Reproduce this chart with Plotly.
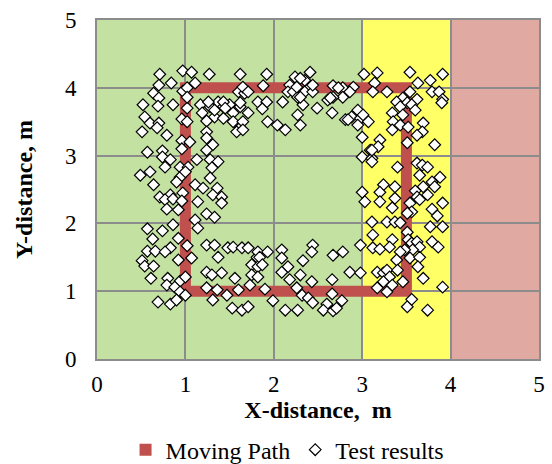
import plotly.graph_objects as go

# ---- data ----
path_x = [1, 1, 3.5, 3.5, 1]
path_y = [1, 4, 4, 1, 1]

zone_edges = [0, 3, 4, 5]
zone_colors = ["#c3e1a0", "#ffff66", "#e0aaa3"]

ticks = [0, 1, 2, 3, 4, 5]

left_pts = [
    (0.71, 4.20), (0.97, 4.25), (1.07, 4.23), (1.27, 4.20), (0.70, 4.04), (0.84, 4.07),
    (0.97, 3.95), (1.11, 4.07), (0.64, 3.92), (0.70, 3.85), (0.52, 3.75), (0.69, 3.73),
    (0.86, 3.75), (1.02, 3.70), (1.17, 3.75), (1.28, 3.72), (1.37, 3.79), (1.19, 3.63),
    (1.33, 3.57), (1.24, 3.51), (0.54, 3.57), (0.60, 3.48), (0.70, 3.48), (0.51, 3.35),
    (0.79, 3.30), (0.96, 3.54), (1.24, 3.35), (1.24, 3.26), (0.96, 3.22), (1.05, 3.20),
    (0.96, 3.10), (1.31, 3.16), (1.24, 3.08), (0.57, 3.05), (0.74, 3.07), (0.74, 2.98),
    (0.83, 2.94), (0.94, 2.83), (1.03, 2.83), (1.13, 2.94), (1.28, 2.94), (1.37, 2.91),
    (1.30, 2.82), (0.60, 2.76), (0.77, 2.83), (0.94, 2.68), (1.00, 2.76), (0.90, 2.61),
    (1.28, 2.67), (1.11, 2.57), (1.20, 2.52), (1.36, 2.52), (0.64, 2.57), (0.71, 2.39),
    (0.83, 2.42), (0.97, 2.45), (1.31, 2.42), (1.41, 2.39), (0.77, 2.35), (0.86, 2.36),
    (0.96, 2.33), (0.79, 2.21), (0.92, 2.20), (1.14, 2.32), (1.41, 2.30), (1.24, 2.14),
    (1.33, 2.09), (1.11, 2.05), (1.14, 1.93), (0.57, 1.92), (0.74, 1.89), (0.86, 1.98),
    (0.63, 1.77), (0.92, 1.78), (1.02, 1.67), (0.57, 1.59), (0.66, 1.59), (0.83, 1.64),
    (0.77, 1.58), (0.51, 1.45), (0.54, 1.37), (0.64, 1.37), (0.92, 1.46), (1.07, 1.49),
    (0.61, 1.19), (0.80, 1.19), (0.94, 1.15), (1.00, 1.21), (0.79, 1.09), (0.88, 1.06),
    (0.94, 0.99), (1.00, 0.94), (0.69, 0.84), (0.83, 0.81), (0.90, 0.87), (1.02, 4.00),
    (1.02, 3.86), (1.02, 3.50), (0.68, 3.41), (1.26, 3.79), (1.33, 3.67), (1.43, 3.72),
    (0.49, 2.71),
]

top_pts = [
    (1.62, 4.20), (1.50, 3.75), (1.62, 3.72), (1.71, 3.63), (1.54, 3.63), (1.60, 3.94),
    (1.67, 3.92), (1.43, 3.55), (1.54, 3.50), (1.62, 3.41), (1.58, 3.35), (1.92, 4.20),
    (1.88, 4.03), (2.24, 4.16), (2.41, 4.23), (2.18, 4.04), (2.35, 4.11), (2.41, 4.01),
    (2.16, 3.94), (2.22, 3.94), (2.27, 3.86), (2.35, 3.94), (2.44, 3.94), (1.82, 3.79),
    (1.92, 3.79), (1.87, 3.69), (2.10, 3.79), (2.33, 3.75), (2.49, 3.70), (2.67, 4.03),
    (2.78, 4.00), (2.90, 4.01), (2.86, 3.94), (2.78, 3.86), (2.67, 3.86), (2.61, 3.82),
    (2.66, 3.63), (2.27, 3.60), (2.30, 3.45), (1.93, 3.50), (2.04, 3.45), (2.13, 3.38),
    (2.81, 3.53), (2.88, 3.57), (2.95, 3.67), (2.98, 3.55), (2.95, 3.45), (3.00, 3.27),
    (3.00, 2.98), (3.00, 2.46), (1.65, 4.01), (1.71, 3.94), (1.43, 3.79), (1.45, 3.70),
    (1.65, 3.50), (1.65, 3.38), (1.62, 3.78), (2.30, 4.14), (2.44, 4.04), (2.26, 4.01),
    (2.30, 3.86), (2.64, 3.85), (2.73, 4.00), (2.84, 3.53),
]

bottom_pts = [
    (1.24, 1.68), (1.33, 1.68), (1.37, 1.50), (1.48, 1.64), (1.54, 1.65), (1.64, 1.64),
    (1.71, 1.64), (1.81, 1.50), (1.75, 1.39), (1.82, 1.36), (1.75, 1.24), (1.82, 1.21),
    (1.24, 1.28), (1.41, 1.27), (1.30, 1.24), (1.56, 1.19), (1.24, 1.05), (1.36, 1.02),
    (1.47, 0.94), (1.60, 1.02), (1.73, 1.09), (1.31, 0.87), (1.53, 0.75), (1.64, 0.72),
    (1.71, 0.77), (1.82, 1.58), (1.93, 1.58), (2.09, 1.61), (1.84, 1.50), (1.87, 1.39),
    (2.44, 1.68), (2.43, 1.58), (2.33, 1.45), (2.67, 1.53), (2.78, 1.58), (2.98, 1.68),
    (2.09, 1.49), (2.16, 1.36), (2.09, 1.28), (2.18, 1.17), (2.30, 1.24), (2.43, 1.14),
    (2.66, 1.17), (2.86, 1.28), (2.98, 1.27), (1.90, 1.03), (2.26, 1.05), (2.32, 0.94),
    (2.39, 0.90), (2.66, 0.96), (2.77, 0.86), (2.60, 0.81), (1.99, 0.86), (2.13, 0.72),
    (2.27, 0.72), (2.44, 0.83), (2.56, 0.72), (2.67, 0.71), (2.71, 0.75),
]

right_pts = [
    (3.03, 2.32), (3.02, 4.20), (3.17, 4.22), (3.14, 4.07), (3.12, 3.94), (3.28, 3.94),
    (3.54, 4.23), (3.63, 4.07), (3.77, 4.11), (3.91, 4.20), (3.79, 3.94), (3.87, 3.94),
    (3.91, 3.83), (3.90, 3.78), (3.54, 3.94), (3.46, 3.85), (3.51, 3.78), (3.62, 3.83),
    (3.56, 3.75), (3.39, 3.79), (3.43, 3.72), (3.34, 3.63), (3.46, 3.60), (3.60, 3.67),
    (3.01, 3.60), (3.07, 3.50), (3.35, 3.50), (3.34, 3.38), (3.43, 3.45), (3.52, 3.42),
    (3.69, 3.48), (3.68, 3.35), (3.20, 3.23), (3.18, 3.13), (3.09, 3.08), (3.51, 3.19),
    (3.62, 3.30), (3.82, 3.16), (3.11, 2.96), (3.11, 3.08), (3.40, 2.83), (3.62, 2.89),
    (3.68, 2.86), (3.11, 2.91), (3.74, 2.83), (3.65, 2.71), (3.88, 2.68), (3.79, 2.61),
    (3.82, 2.54), (3.69, 2.54), (3.60, 2.48), (3.74, 2.42), (3.24, 2.57), (3.37, 2.54),
    (3.20, 2.46), (3.37, 2.37), (3.20, 2.32), (3.34, 2.23), (3.62, 2.39), (3.65, 2.35),
    (3.54, 2.30), (3.56, 2.17), (3.51, 2.15), (3.91, 2.30), (3.79, 2.21), (3.85, 2.11),
    (3.11, 2.02), (3.28, 2.02), (3.37, 2.02), (3.43, 2.01), (3.77, 1.95), (3.91, 1.95),
    (3.51, 1.87), (3.52, 1.76), (3.56, 1.71), (3.62, 1.73), (3.65, 1.65), (3.57, 1.61),
    (3.48, 1.61), (3.43, 1.58), (3.39, 1.46), (3.54, 1.49), (3.65, 1.50), (3.12, 1.83),
    (3.12, 1.64), (3.20, 1.62), (3.34, 1.76), (3.31, 1.65), (3.79, 1.73), (3.86, 1.65),
    (3.63, 1.36), (3.69, 1.19), (3.91, 1.06), (3.17, 1.28), (3.24, 1.27), (3.28, 1.31),
    (3.40, 1.31), (3.31, 1.21), (3.24, 1.14), (3.17, 1.05), (3.28, 0.99), (3.34, 1.09),
    (3.46, 1.14), (3.51, 0.77), (3.56, 0.88), (3.74, 0.72),
]

all_pts = left_pts + top_pts + bottom_pts + right_pts
test_x = [p[0] for p in all_pts]
test_y = [p[1] for p in all_pts]

FONT = "Liberation Serif"
RED = "#c0504d"
GRID = "#8c8c8c"

fig = go.Figure()

fig.add_trace(go.Scatter(
    x=path_x, y=path_y, mode="lines",
    line=dict(color=RED, width=11),
    showlegend=False, hoverinfo="skip",
))
fig.add_trace(go.Scatter(
    x=[None], y=[None], mode="markers", name="Moving Path",
    marker=dict(symbol="square", color=RED, size=12),
))
fig.add_trace(go.Scatter(
    x=test_x, y=test_y, mode="markers", name="Test results",
    marker=dict(symbol="diamond", color="white", size=9,
                line=dict(color="black", width=1.2)),
))

for i, c in enumerate(zone_colors):
    fig.add_shape(type="rect", xref="x", yref="y",
                  x0=zone_edges[i], x1=zone_edges[i + 1], y0=ticks[0], y1=ticks[-1],
                  fillcolor=c, line=dict(width=0), layer="below")

axis_common = dict(
    range=[ticks[0], ticks[-1]], tickvals=ticks, showgrid=True,
    gridcolor=GRID, gridwidth=2, zeroline=False,
    showline=True, mirror=True, linecolor=GRID, linewidth=2,
    ticks="", tickfont=dict(family=FONT, size=23, color="black"),
    automargin=False,
)

fig.update_xaxes(**axis_common, ticklabelstandoff=3,
                 title=dict(text="<b>X-distance,  m</b>",
                            font=dict(family=FONT, size=24, color="black"),
                            standoff=2))
fig.update_yaxes(**axis_common, ticklabelstandoff=14,
                 title=dict(text="<b>Y-distance, m</b>",
                            font=dict(family=FONT, size=24, color="black"),
                            standoff=26))

fig.update_layout(
    width=552, height=464,
    margin=dict(l=97, r=13, t=20, b=105),
    paper_bgcolor="white", plot_bgcolor="white",
    legend=dict(orientation="h", x=0.43, xanchor="center",
                yref="container", y=0.03, yanchor="middle",
                font=dict(family=FONT, size=24, color="black"),
                itemwidth=30, tracegroupgap=0),
    font=dict(family=FONT),
)

fig.write_html("out.html", config={"displayModeBar": False},
               post_script="document.body.style.margin='0';")
